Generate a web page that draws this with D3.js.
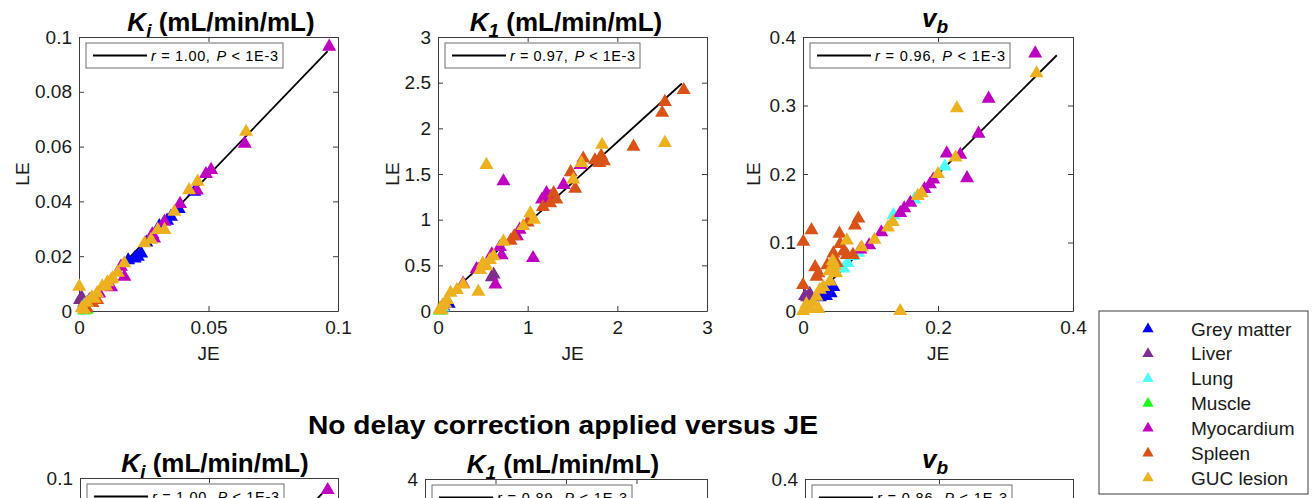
<!DOCTYPE html>
<html>
<head>
<meta charset="UTF-8">
<title>LE vs JE</title>
<script src="https://d3js.org/d3.v7.min.js"></script>
<style>
  body { margin: 0; background: #fff; }
  svg { display: block; font-family: "Liberation Sans", Arial, Helvetica, sans-serif; }
  .axis path, .axis line { stroke: #3c3c3c; stroke-width: 1; }
  .axis text { font-size: 19px; fill: #1a1a1a; font-family: "Liberation Sans", Arial, sans-serif; }
  .lbl { font-size: 19px; fill: #1a1a1a; }
</style>
</head>
<body>
<svg id="chart" width="1316" height="498"></svg>
<script>
// tissue groups (draw order = legend order)
const tissues = ["Grey matter", "Liver", "Lung", "Muscle", "Myocardium", "Spleen", "GUC lesion"];
const tissueColors = ["#0000ff", "#7e2f8e", "#4dffff", "#1aff1a", "#c000c0", "#d95319", "#edb120"];

// ---- top row: delay corrected LE vs JE ----
// each panel: one [JE, LE] list per tissue, same order as `tissues`
const kiData = [
  [[0.0215,0.0192],[0.0227,0.0198],[0.024,0.021],[0.019,0.0185],[0.0355,0.0344],[0.0385,0.0372],[0.0445,0.0435],[0.031,0.031],[0.026,0.025],[0.034,0.033]],
  [[0.0004,0.004],[0.001,0.005],[0.002,0.003],[0.004,0.004]],
  [[0.002,0.002],[0.004,0.0035]],
  [[0.002,0.0002],[0.003,0.0005]],
  [[0.0966,0.0965],[0.064,0.0611],[0.051,0.0515],[0.049,0.050],[0.039,0.0391],[0.033,0.0326],[0.0175,0.0125],[0.0162,0.0162],[0.0078,0.0064],[0.0124,0.0087],[0.0283,0.028],[0.0455,0.044],[0.029,0.0265]],
  [[0.0052,0.0029],[0.007,0.004],[0.003,0.001]],
  [[0.0001,0.0089],[0.0645,0.0654],[0.0458,0.0472],[0.0425,0.0441],[0.0368,0.0362],[0.033,0.0296],[0.0304,0.0296],[0.0278,0.026],[0.0253,0.0247],[0.0175,0.0174],[0.015,0.014],[0.013,0.012],[0.011,0.0105],[0.009,0.009],[0.007,0.0065],[0.005,0.005],[0.003,0.003],[0.001,0.001],[0.002,0.0005],[0.0105,0.009],[0.0125,0.0115],[0.006,0.0045]]
];
const k1Data = [
  [[0.12,0.08],[0.06,0.05],[0.1,0.1],[0.04,0.03]],
  [[0.62,0.40],[0.6,0.37],[0.45,0.45]],
  [[0.05,0.04]],
  [[0.02,0.005],[0.04,0.01]],
  [[0.73,1.42],[1.06,0.58],[0.64,0.29],[0.71,0.61],[0.69,0.70],[0.88,0.82],[0.91,0.89],[1.16,1.22],[1.21,1.29],[1.40,1.38],[1.59,1.60],[0.43,0.46],[0.28,0.30],[1.25,1.25],[0.6,0.62]],
  [[2.74,2.42],[2.53,2.29],[2.50,2.17],[2.18,1.80],[1.82,1.70],[1.80,1.62],[1.75,1.65],[1.85,1.64],[1.62,1.67],[1.53,1.34],[1.48,1.52],[1.29,1.29],[1.17,1.14],[1.25,1.18],[1.0,0.97],[0.81,0.77],[0.85,0.82],[1.32,1.22]],
  [[0.54,1.60],[2.53,1.84],[1.83,1.82],[1.60,1.62],[1.51,1.44],[1.03,1.07],[1.07,1.00],[0.73,0.76],[0.58,0.56],[0.54,0.49],[0.47,0.45],[0.45,0.21],[0.28,0.29],[0.21,0.23],[0.14,0.20],[0.1,0.12],[0.08,0.08],[0.05,0.06],[0.02,0.02],[0.95,0.93],[0.62,0.6],[0.5,0.52],[0.04,0.01]]
];
const vbData = [
  [[0.034,0.022],[0.041,0.026],[0.035,0.03],[0.03,0.025],[0.045,0.035],[0.025,0.02]],
  [[0.003,0.022],[0.01,0.025],[0.006,0.02]],
  [[0.21,0.211],[0.0818,0.0851],[0.0744,0.0803],[0.06,0.062],[0.134,0.14],[0.165,0.163],[0.066,0.07]],
  [[0.01,0.005]],
  [[0.344,0.376],[0.275,0.310],[0.260,0.259],[0.243,0.194],[0.233,0.228],[0.213,0.230],[0.193,0.192],[0.188,0.185],[0.159,0.158],[0.150,0.150],[0.144,0.143],[0.116,0.115],[0.098,0.096],[0.18,0.178],[0.085,0.09]],
  [[0.0004,0.101],[0.0126,0.118],[0.0,0.038],[0.018,0.064],[0.023,0.055],[0.045,0.084],[0.06,0.087],[0.054,0.113],[0.082,0.135],[0.077,0.125],[0.065,0.082],[0.074,0.082],[0.036,0.067],[0.02,0.05],[0.05,0.07],[0.055,0.098]],
  [[0.346,0.347],[0.228,0.296],[0.226,0.224],[0.2,0.2],[0.176,0.172],[0.170,0.168],[0.133,0.130],[0.126,0.122],[0.106,0.104],[0.087,0.093],[0.144,0.0],[0.0,0.0],[0.011,0.003],[0.023,0.003],[0.02,0.021],[0.025,0.031],[0.039,0.058],[0.047,0.066],[0.04,0.043],[0.065,0.103],[0.044,0.073],[0.049,0.055],[0.005,0.01],[0.015,0.012],[0.03,0.035]]
];

// ---- bottom row: no delay correction (only the top strip is in view) ----
const kiNoDelayData = [[], [], [], [], [[0.096,0.0956]], [], []];
const k1NoDelayData = [[], [], [], [], [], [], []];
const vbNoDelayData = [[], [], [], [], [], [], []];

// regression lines: [slope, intercept, xStart, xEnd]
const kiFit = [0.985, 0.0003, 0, 0.096];
const k1Fit = [0.89, 0.07, 0, 2.72];
const vbFit = [0.985, 0.003, 0.01, 0.376];
const kiNoDelayFit = [1.0, 0.0005, 0, 0.095];

// correlation legends: [r, P bound]
const stats = { ki: ["1.00", "1E-3"], k1: ["0.97", "1E-3"], vb: ["0.96", "1E-3"],
                kiND: ["1.00", "1E-3"], k1ND: ["0.89", "1E-3"], vbND: ["0.86", "1E-3"] };

// tick values
const kiXTicks = [0, 0.05, 0.1];
const kiYTicks = [0, 0.02, 0.04, 0.06, 0.08, 0.1];
const k1XTicks = [0, 1, 2, 3];
const k1YTicks = [0, 0.5, 1, 1.5, 2, 2.5, 3];
const vbXTicks = [0, 0.2, 0.4];
const vbYTicks = [0, 0.1, 0.2, 0.3, 0.4];
const k1NDTicks = [0, 1, 2, 3, 4];

const sectionTitle = "No delay correction applied versus JE";

const svg = d3.select("#chart");
const fmt = d3.format("~g");
const H = 498;

// title pieces: [main letter, subscript]
const panels = [
  { box: [79, 338, 37, 311], xd: [0, 0.1], yd: [0, 0.1], xt: kiXTicks, yt: kiYTicks, data: kiData, fit: kiFit,
    title: ["K", "i"], tx: 221, ty: 31, st: stats.ki, legW: 197, labX: 22, xlab: true },
  { box: [438, 707, 37, 311], xd: [0, 3], yd: [0, 3], xt: k1XTicks, yt: k1YTicks, data: k1Data, fit: k1Fit,
    title: ["K", "1"], tx: 566, ty: 31, st: stats.k1, legW: 195, labX: 392, xlab: true },
  { box: [803, 1073, 37, 311], xd: [0, 0.4], yd: [0, 0.4], xt: vbXTicks, yt: vbYTicks, data: vbData, fit: vbFit,
    title: ["v", "b"], tx: 935, ty: 27, st: stats.vb, legW: 200, labX: 753, xlab: true },
  { box: [80, 338, 478, 752], xd: [0, 0.1], yd: [0, 0.1], xt: kiXTicks, yt: kiYTicks, data: kiNoDelayData, fit: kiNoDelayFit,
    title: ["K", "i"], tx: 215, ty: 472, st: stats.kiND, legW: 197, labX: 22, xlab: false },
  { box: [425, 707, 479, 753], xd: [0, 4], yd: [0, 4], xt: k1NDTicks, yt: k1NDTicks, data: k1NoDelayData, fit: null,
    title: ["K", "1"], tx: 563, ty: 473, st: stats.k1ND, legW: 200, labX: 392, xlab: false },
  { box: [805, 1073, 479, 753], xd: [0, 0.4], yd: [0, 0.4], xt: vbXTicks, yt: vbYTicks, data: vbNoDelayData, fit: null,
    title: ["v", "b"], tx: 935, ty: 468, st: stats.vbND, legW: 200, labX: 753, xlab: false }
];

const tri = d3.symbol().type(d3.symbolTriangle).size(85);

panels.forEach(p => {
  const [x0, x1, y0, y1] = p.box;
  const x = d3.scaleLinear().domain(p.xd).range([x0, x1]);
  const y = d3.scaleLinear().domain(p.yd).range([y1, y0]);
  const g = svg.append("g");

  // axes box with inward ticks on all four sides
  g.append("g").attr("class", "axis").attr("transform", `translate(0,${y1})`)
    .call(d3.axisBottom(x).tickValues(p.xt).tickFormat(fmt).tickSizeInner(-5).tickSizeOuter(0).tickPadding(10));
  g.append("g").attr("class", "axis").attr("transform", `translate(0,${y0})`)
    .call(d3.axisTop(x).tickValues(p.xt).tickFormat("").tickSizeInner(-5).tickSizeOuter(0));
  g.append("g").attr("class", "axis").attr("transform", `translate(${x0},0)`)
    .call(d3.axisLeft(y).tickValues(p.yt).tickFormat(fmt).tickSizeInner(-5).tickSizeOuter(0).tickPadding(7));
  g.append("g").attr("class", "axis").attr("transform", `translate(${x1},0)`)
    .call(d3.axisRight(y).tickValues(p.yt).tickFormat("").tickSizeInner(-5).tickSizeOuter(0));

  // axis labels
  if (p.xlab) {
    g.append("text").attr("class", "lbl").attr("x", (x0 + x1) / 2).attr("y", 360)
      .attr("text-anchor", "middle").text("JE");
  }
  g.append("text").attr("class", "lbl")
    .attr("transform", `translate(${p.labX},${(y0 + y1) / 2}) rotate(-90)`)
    .attr("text-anchor", "middle").attr("dy", "0.35em").text("LE");

  // title
  const t = g.append("text").attr("x", p.tx).attr("y", p.ty).attr("text-anchor", "middle")
    .attr("font-weight", "bold").attr("font-size", 26).attr("fill", "#000");
  t.append("tspan").attr("font-style", "italic").text(p.title[0]);
  t.append("tspan").attr("font-style", "italic").attr("font-size", 19).attr("dy", 6).text(p.title[1]);
  if (p.title[0] === "K") {
    t.append("tspan").attr("dy", -6).text(" (mL/min/mL)");
  }

  // regression line
  if (p.fit) {
    const [a, b, xs, xe] = p.fit;
    g.append("path")
      .attr("d", d3.line().x(d => x(d)).y(d => y(a * d + b))([xs, xe]))
      .attr("stroke", "#000").attr("stroke-width", 1.8).attr("fill", "none");
  }

  // points by tissue
  p.data.forEach((pts, i) => {
    g.append("g").selectAll("path").data(pts).enter().append("path")
      .attr("d", tri)
      .attr("transform", d => `translate(${x(d[0])},${y(d[1])})`)
      .attr("fill", tissueColors[i]);
  });

  // correlation legend
  const lgx = x0 + 7, lgy = y0 + 6;
  g.append("rect").attr("x", lgx).attr("y", lgy).attr("width", p.legW).attr("height", 25)
    .attr("fill", "#fff").attr("stroke", "#6e6e6e").attr("stroke-width", 1);
  g.append("line").attr("x1", lgx + 7).attr("x2", lgx + 61).attr("y1", lgy + 12.5).attr("y2", lgy + 12.5)
    .attr("stroke", "#000").attr("stroke-width", 1.8);
  const lt = g.append("text").attr("x", lgx + 65).attr("y", lgy + 17.5).attr("font-size", 14.5).attr("fill", "#000")
    .attr("textLength", p.legW - 70).attr("lengthAdjust", "spacing");
  lt.append("tspan").attr("font-style", "italic").text("r");
  lt.append("tspan").text(" = " + p.st[0] + ",");
  lt.append("tspan").attr("dx", 6).attr("font-style", "italic").text("P");
  lt.append("tspan").text(" < " + p.st[1]);
});

// section title
svg.append("text").attr("x", 563).attr("y", 434).attr("text-anchor", "middle")
  .attr("font-weight", "bold").attr("font-size", 26).attr("fill", "#000")
  .attr("textLength", 510).attr("lengthAdjust", "spacingAndGlyphs")
  .text(sectionTitle);

// tissue legend
const leg = svg.append("g");
leg.append("rect").attr("x", 1099).attr("y", 311).attr("width", 209).attr("height", 183)
  .attr("fill", "#fff").attr("stroke", "#3c3c3c").attr("stroke-width", 1);
const legY = d3.scalePoint().domain(tissues).range([329, 478]);
const smallTri = d3.symbol().type(d3.symbolTriangle).size(55);
tissues.forEach((name, i) => {
  leg.append("path").attr("d", smallTri)
    .attr("transform", `translate(1148,${legY(name)})`).attr("fill", tissueColors[i]);
  leg.append("text").attr("class", "lbl").attr("x", 1191).attr("y", legY(name))
    .attr("dy", "0.35em").text(name);
});

// the figure is cropped at the bottom: drop labels that start below the visible area
svg.selectAll("text").each(function () {
  if (this.getBoundingClientRect().top >= H) d3.select(this).remove();
});
</script>
</body>
</html>
